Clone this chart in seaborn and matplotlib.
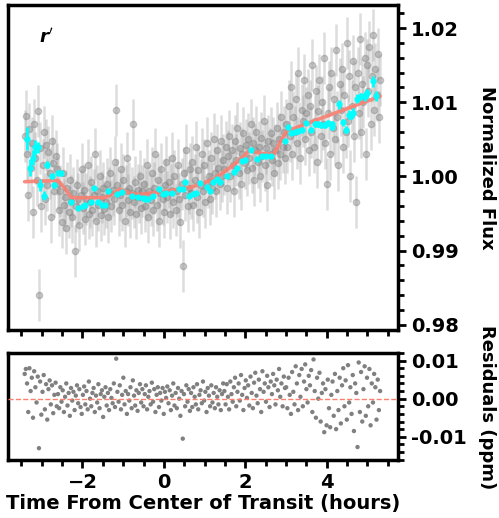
import numpy as np
import seaborn as sns
import matplotlib.pyplot as plt
from matplotlib.ticker import MultipleLocator

# raw light curve: offsets from 1.0 in units of 1e-4
raw_flux_off = [
    55, 82, 30, -25, 64, 12, 45, -48, 70, 25, -5, 88, -160, 38, -40, 15, 60, -30, 42, -12,
    33, 5, -55, 48, 18, -20, 28, 10,
    -10, -45, -20, -62, 5, -38, -28, -70, -15, -48, -5, -33, -55, -22, -100, -40, -12, -30, -65, -25,
    10, -42, -18, -58, -30, 15, -50, -35, -8, -45, -25, 30, -60, -20, -38, 0, -52, -28, -15, -44,
    -35, -10, -55, -22, 5, -40, -18, -30, 20, 89, -12, -45, -25, 10, -38, -5, -60, -20, 25, -32,
    -15, -48, -22, 70, -35, -8, -50, -18, -28, 0, -42, -20,
    -10, -40, -25, 15, -55, -20, -32, 5, -45, -15, 30, -38, -5, -60, -22, 10, -30, -48, -12, 20,
    -28, -8, -50, -18, 25, -35, 0, -45, -20, 15, -30, -62, -10, -121, 5, -25, 35, -40, -15, 10,
    -22, 20, -38, -5, 40, -28, 8, -48, -12, 30, -20, 15, -35, 45, -8, 0, -30, 25, -15, 50,
    5, -20, 35, 12, -10, 48, 0, 22,
    10, 40, -15, 28, 55, 0, 35, 15, -20, 48, 22, 65, 5, 38, -10, 30, 58, 18, 42, 8,
    50, 25, 70, 12, 45, -5, 35, 60, 20, 40, 0, 52, 28, 75, 15, 38, -12, 48, 30, 58,
    22, 45, 5, 35, 65, 18, 50, 30, 80, 40, 60, 25,
    70, 40, 95, 55, 120, 30, 80, 60, 105, 45, 140, 65, 25, 90, 75, 130, 50, 85, 110, 35,
    95, 60, 150, 40, 75, 115, 20, 88, 130, 55, 100, 70, 160, 45, -10, 85, 120, 30, 140, 65,
    105, 50, 170, 80, 15, 125, 90, 145, 40, 110, 60, 180, 75, 135, 0, 95, 155, 55, 120, -35,
    140, 85, 185, 60, 125, 100, 160, 30, 150, 115, 175, 70, 135, 190, 90, 145, 110, 165, 80, 130,
]
raw_err = 0.0035

# residuals in units of 1e-4
resid_off = [
    65, 78, 40, -35, 80, 20, 55, -50, 72, 30, -10, 58, -130, 45, -42, 18, 62, -28, 38, -55,
    25, 48, -15, 35, -38, 10, 42, -20,
    12, -25, 30, -8, 22, -35, 5, 40, -18, 15, -45, 28, -5, 18, -30, 8, 35, -12, 25, -22,
    -40, 10, 32, -15, 20, -28, 45, 0, -20, 15, 28, -35, 8, -10, 38, -25, 12, 22, -48, 5,
    30, -18, 15, -30, 25, 2, -12, 40, -22, 105, 18, -8, 35, -28, 10, 55, -15, 20, -40, 12,
    -5, 30, -25, 48, 8, -18, 22, -32, 15, 38, -10, 25,
    -20, 12, 35, -28, 5, 20, -15, 42, -8, 25, -35, 10, 30, -22, 15, -5, 28, -40, 18, 2,
    32, -12, 22, -30, 8, 40, -18, 15, -25, 28, 0, -45, 20, -105, 12, -20, 35, -8, 25, -32,
    15, -22, 30, 5, -15, 38, -28, 10, 22, -12, 45, -5, 18, -35, 28, 8, -20, 35, -10, 15,
    -25, 30, 5, -15, 22, -30, 12, 40,
    20, -15, 38, 5, -28, 45, 12, -8, 30, 55, -20, 18, 40, -5, 62, 10, -30, 28, 48, 2,
    35, -18, 58, 15, -25, 42, 68, 8, -12, 50, 25, -35, 72, 18, 40, -8, 60, 30, -22, 45,
    12, 65, 35, -15, 50, 22, 78, 5, 40, -20, 58, 28,
    30, -25, 55, 10, -40, 70, 18, -15, 85, 40, -30, 62, 5, 78, -20, 45, 90, 25, -10, 60,
    35, 75, -35, 103, 20, -50, 55, 0, 68, -60, 15, 40, -88, 25, -70, 50, -25, -75, 10, 45,
    -45, 65, -80, 20, -30, 55, -65, 35, 80, -20, 48, -55, 88, -10, 30, -40, 62, -85, 40, 15,
    -127, 95, -35, 70, -60, 25, 85, -45, 55, -20, 78, -70, 40, -10, 65, 30, -55, 50, -30, 20,
]

# observations are evenly spaced in time
t_start, t_end = -3.42, 5.31

# binned points
bin_time = [-3.36, -3.29, -3.21, -3.17, -3.10, -3.05, -2.94, -2.86, -2.76, -2.69,
            -2.61, -2.53, -2.29, -2.11, -1.99, -1.95, -1.79, -1.71, -1.63, -1.52,
            -1.45, -1.37, -1.16, -1.04, -0.79, -0.63, -0.51, -0.47, -0.38, -0.28,
            -0.11, -0.03, 0.05, 0.21, 0.38, 0.47, 0.52, 0.62, 0.72, 0.79,
            0.88, 1.05, 1.13, 1.21, 1.31, 1.39, 1.56, 1.72, 1.80, 1.91,
            1.99, 2.13, 2.29, 2.42, 2.51, 2.62, 2.97, 3.05, 3.13, 3.21,
            3.30, 3.38, 3.50, 3.62, 3.71, 3.79, 3.87, 3.95, 4.04, 4.12,
            4.14, 4.31, 4.39, 4.47, 4.55, 4.60, 4.65, 4.75, 4.83, 4.94,
            5.00, 5.14, 5.21]
bin_flux = [1.0051, 1.0012, 1.0025, 1.0039, 1.0039, 0.9989, 0.9974, 1.0016, 1.0000, 0.9989,
            1.0005, 1.0004, 0.9965, 0.9958, 0.9960, 0.9961, 0.9965, 0.9985, 0.9965, 0.9962,
            0.9961, 0.9980, 0.9976, 0.9979, 0.9973, 0.9972, 0.9971, 0.9970, 0.9970, 0.9974,
            0.9983, 0.9976, 0.9977, 0.9977, 0.9983, 0.9983, 0.9992, 0.9974, 0.9976, 0.9977,
            0.9991, 0.9986, 0.9980, 0.9992, 0.9996, 0.9992, 1.0000, 1.0006, 1.0012, 1.0021,
            1.0022, 1.0036, 1.0023, 1.0027, 1.0027, 1.0027, 1.0048, 1.0066, 1.0059, 1.0060,
            1.0061, 1.0063, 1.0072, 1.0063, 1.0071, 1.0070, 1.0069, 1.0069, 1.0072, 1.0071,
            1.0066, 1.0097, 1.0073, 1.0063, 1.0083, 1.0082, 1.0086, 1.0105, 1.0108, 1.0108,
            1.0112, 1.0128, 1.0108]
bin_err = [0.0016, 0.0012, 0.0010, 0.0010, 0.0008, 0.0008, 0.0006, 0.0005, 0.0004, 0.0004,
           0.0003, 0.0003, 0.0002, 0.0002, 0.0002, 0.0002, 0.0002, 0.0002, 0.0002, 0.0002,
           0.0002, 0.0002, 0.0002, 0.0002, 0.0002, 0.0002, 0.0002, 0.0002, 0.0002, 0.0002,
           0.0002, 0.0002, 0.0002, 0.0002, 0.0002, 0.0002, 0.0002, 0.0002, 0.0002, 0.0002,
           0.0002, 0.0002, 0.0002, 0.0002, 0.0002, 0.0002, 0.0002, 0.0002, 0.0002, 0.0002,
           0.0002, 0.0002, 0.0002, 0.0002, 0.0002, 0.0002, 0.0003, 0.0003, 0.0003, 0.0003,
           0.0003, 0.0003, 0.0003, 0.0003, 0.0004, 0.0004, 0.0004, 0.0004, 0.0004, 0.0004,
           0.0004, 0.0006, 0.0005, 0.0005, 0.0006, 0.0005, 0.0006, 0.0006, 0.0005, 0.0006,
           0.0006, 0.0008, 0.0007]

# model curve
model_time = [-3.42, -2.6, -2.45, -2.27, -1.45, -1.25, -1.08, -0.79, -0.59, -0.1,
              0.64, 1.21, 1.62, 1.87, 2.11, 2.4, 2.69, 3.01, 5.31]
model_flux = [0.99929, 0.99946, 0.9985, 0.99713, 0.99713, 0.9977, 0.99825, 0.99767, 0.99758, 0.99789,
              0.99848, 0.9996, 1.00117, 1.00229, 1.00354, 1.0031, 1.00296, 1.0061, 1.0108]

sns.set_style('ticks')
plt.rcParams['font.family'] = ['DejaVu Sans']
plt.rcParams['font.weight'] = 'bold'
plt.rcParams['text.color'] = 'black'
plt.rcParams['axes.labelcolor'] = 'black'
plt.rcParams['xtick.color'] = 'black'
plt.rcParams['ytick.color'] = 'black'

raw_time = np.linspace(t_start, t_end, len(raw_flux_off))
raw_flux = 1.0 + np.array(raw_flux_off) * 1e-4
resid = np.array(resid_off) * 1e-4

fig = plt.figure(figsize=(4.99, 5.18), dpi=100)
ax1 = fig.add_axes([0.016, 0.3629, 0.7816, 0.6274])
ax2 = fig.add_axes([0.016, 0.1120, 0.7816, 0.2066])

# top panel
ax1.errorbar(raw_time, raw_flux, yerr=raw_err, fmt='o', ms=4.5, color='gray',
             alpha=0.4, ecolor='darkgray', elinewidth=1.8, zorder=1)
sns.lineplot(x=model_time, y=model_flux, color='salmon', lw=2.6, alpha=0.9, ax=ax1, zorder=2)
ax1.errorbar(bin_time, bin_flux, yerr=bin_err, fmt='o', ms=3.5, color='cyan',
             ecolor='cyan', elinewidth=2, zorder=3)
ax1.text(0.08, 0.885, r'$\mathbfit{r}^{\prime}$', transform=ax1.transAxes, fontsize=13)
ax1.set_ylim(0.9793, 1.0231)
ax1.yaxis.set_major_locator(MultipleLocator(0.01))
ax1.yaxis.set_minor_locator(MultipleLocator(0.002))
ax1.tick_params(labelbottom=False)

# bottom panel
sns.scatterplot(x=raw_time, y=resid, color='gray', s=10, edgecolor='none', ax=ax2, zorder=2)
ax2.axhline(0, color='salmon', ls='--', lw=1, zorder=3)
ax2.set_ylim(-0.0161, 0.012)
ax2.yaxis.set_major_locator(MultipleLocator(0.01))
ax2.yaxis.set_minor_locator(MultipleLocator(0.002))
ax2.set_xlabel('Time From Center of Transit (hours)', fontsize=14, fontweight='bold', labelpad=1)

for ax in (ax1, ax2):
    ax.set_xlim(-3.83, 5.75)
    ax.xaxis.set_major_locator(MultipleLocator(2))
    ax.xaxis.set_minor_locator(MultipleLocator(0.5))
    ax.yaxis.tick_right()
    ax.tick_params(which='major', direction='out', length=6, width=2, labelsize=14,
                   left=False, right=True, top=False, bottom=True)
    ax.tick_params(which='minor', direction='out', length=4, width=2,
                   left=False, right=True, top=False, bottom=True)
    for sp in ax.spines.values():
        sp.set_visible(True)
        sp.set_linewidth(2.5)
        sp.set_color('black')
    ax.set_ylabel('')
    ax.yaxis.set_major_formatter(plt.FormatStrFormatter('%.2f'))
    for lab in ax.get_xticklabels() + ax.get_yticklabels():
        lab.set_fontweight('bold')

fig.text(0.976, 0.676, 'Normalized Flux', rotation=270, ha='center', va='center',
         fontsize=13, fontweight='bold')
fig.text(0.976, 0.215, 'Residuals (ppm)', rotation=270, ha='center', va='center',
         fontsize=13, fontweight='bold')

fig.savefig('out.png', dpi=100)
